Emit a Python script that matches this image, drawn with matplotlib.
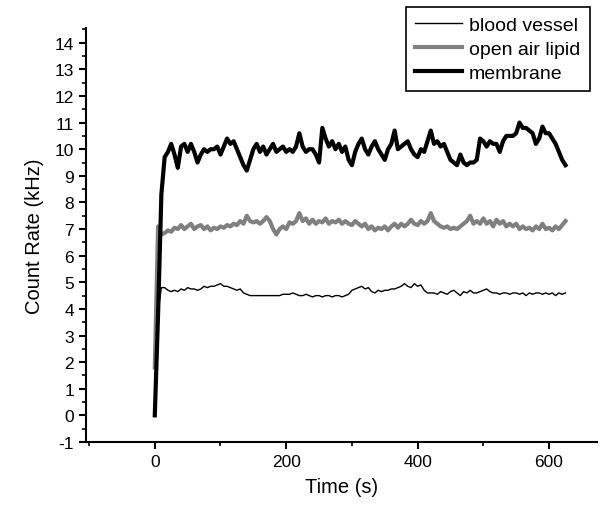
import numpy as np
import matplotlib
matplotlib.use("Agg")
import matplotlib.pyplot as plt
from matplotlib.ticker import MultipleLocator

plt.rcParams['font.family'] = ['Liberation Sans', 'DejaVu Sans']
plt.rcParams['axes.unicode_minus'] = False

# sampling every 5 s, from 0 s
t_step = 5

blood_vessel = [3.7, 3.9, 4.8, 4.8, 4.7, 4.65, 4.7, 4.65, 4.75, 4.7,
                4.8, 4.75, 4.75, 4.7, 4.75, 4.85, 4.8, 4.85, 4.85, 4.9,
                4.95, 4.85, 4.85, 4.8, 4.75, 4.7, 4.75, 4.6, 4.55, 4.5,
                4.5, 4.5, 4.5, 4.5, 4.5, 4.5, 4.5, 4.5, 4.5, 4.55,
                4.55, 4.55, 4.6, 4.55, 4.5, 4.5, 4.55, 4.5, 4.45, 4.5,
                4.5, 4.45, 4.5, 4.5, 4.45, 4.5, 4.5, 4.45, 4.5, 4.55,
                4.7, 4.75, 4.8, 4.85, 4.75, 4.8, 4.65, 4.6, 4.7, 4.65,
                4.7, 4.7, 4.75, 4.75, 4.8, 4.85, 4.95, 4.85, 4.8, 4.95,
                4.85, 4.9, 4.7, 4.6, 4.6, 4.6, 4.55, 4.65, 4.6, 4.55,
                4.65, 4.7, 4.6, 4.5, 4.65, 4.6, 4.7, 4.6, 4.6, 4.65,
                4.7, 4.75, 4.65, 4.6, 4.6, 4.55, 4.6, 4.6, 4.55, 4.6,
                4.6, 4.55, 4.6, 4.5, 4.6, 4.55, 4.6, 4.6, 4.55, 4.6,
                4.55, 4.6, 4.5, 4.6, 4.55, 4.6]

open_air_lipid = [1.8, 7.1, 6.8, 6.85, 6.95, 6.9, 7.05, 7.0, 7.15, 7.0,
                  7.1, 7.2, 7.0, 7.1, 7.15, 7.0, 7.1, 6.95, 7.05, 7.0,
                  7.1, 7.05, 7.15, 7.1, 7.2, 7.15, 7.3, 7.2, 7.5, 7.3,
                  7.25, 7.3, 7.2, 7.3, 7.45, 7.3, 7.0, 6.8, 7.0, 7.1,
                  7.0, 7.25, 7.2, 7.3, 7.6, 7.3, 7.4, 7.2, 7.35, 7.2,
                  7.3, 7.25, 7.4, 7.2, 7.3, 7.25, 7.35, 7.2, 7.3, 7.2,
                  7.15, 7.3, 7.2, 7.1, 7.2, 7.0, 7.1, 6.95, 7.05, 7.0,
                  7.1, 6.95, 7.1, 7.2, 7.05, 7.2, 7.1, 7.2, 7.35, 7.2,
                  7.15, 7.3, 7.2, 7.3, 7.6, 7.3, 7.2, 7.1, 7.05, 7.1,
                  7.0, 7.05, 7.0, 7.1, 7.2, 7.3, 7.5, 7.2, 7.3, 7.2,
                  7.4, 7.2, 7.3, 7.1, 7.35, 7.2, 7.3, 7.1, 7.2, 7.1,
                  7.2, 7.0, 7.1, 7.0, 7.05, 6.95, 7.1, 7.0, 7.2, 7.0,
                  7.05, 6.95, 7.1, 7.0, 7.15, 7.3]

membrane = [0.0, 3.8, 8.3, 9.7, 9.9, 10.2, 9.8, 9.3, 10.1, 10.2,
            9.9, 10.2, 9.9, 9.5, 9.8, 10.0, 9.9, 10.0, 10.0, 10.1,
            9.8, 10.1, 10.4, 10.2, 10.3, 10.0, 9.7, 9.4, 9.2, 9.6,
            10.0, 10.2, 9.9, 10.1, 9.8, 10.0, 10.2, 9.9, 10.0, 10.1,
            9.9, 10.0, 9.9, 10.1, 10.6, 10.1, 9.9, 10.0, 10.0, 9.8,
            9.5, 10.8, 10.4, 10.1, 10.3, 10.0, 10.2, 9.9, 10.1, 9.6,
            9.4, 9.9, 10.2, 10.4, 10.0, 9.8, 10.1, 10.3, 10.0, 9.8,
            9.6, 10.0, 10.2, 10.7, 10.0, 10.1, 10.2, 10.3, 10.0, 9.8,
            9.7, 10.0, 9.9, 10.3, 10.7, 10.2, 10.3, 10.1, 10.2, 9.9,
            9.6, 9.5, 9.4, 9.8, 9.5, 9.4, 9.5, 9.5, 9.6, 10.4,
            10.3, 10.1, 10.3, 10.2, 10.2, 9.9, 10.3, 10.5, 10.5, 10.5,
            10.6, 11.0, 10.8, 10.8, 10.7, 10.6, 10.2, 10.4, 10.85, 10.6,
            10.6, 10.4, 10.2, 9.9, 9.6, 9.4]

series_names = ['blood vessel', 'open air lipid', 'membrane']

time = np.arange(len(membrane)) * t_step

fig = plt.figure(figsize=(6, 5.06), dpi=100)
ax = fig.add_axes([0.143, 0.1245, 0.852, 0.818])

ax.plot(time, blood_vessel, color='black', lw=1.0, label=series_names[0])
ax.plot(time, open_air_lipid, color='#808080', lw=3.0, label=series_names[1])
ax.plot(time, membrane, color='black', lw=3.0, label=series_names[2])

ax.set_xlim(-105, 673)
ax.set_ylim(-1, 14.55)

ax.xaxis.set_major_locator(MultipleLocator(200))
ax.xaxis.set_minor_locator(MultipleLocator(100))
ax.yaxis.set_major_locator(MultipleLocator(1))
ax.yaxis.set_minor_locator(MultipleLocator(0.5))

for s in ['top', 'right']:
    ax.spines[s].set_visible(False)
for s in ['left', 'bottom']:
    ax.spines[s].set_linewidth(1.5)

ax.tick_params(which='major', direction='out', length=5, width=1.5, labelsize=12.5)
ax.tick_params(which='minor', direction='out', length=3, width=1.2)

ax.set_xlabel('Time (s)', fontsize=14.5, labelpad=6)
ax.set_ylabel('Count Rate (kHz)', fontsize=14.5, labelpad=8)

leg = ax.legend(loc='upper right', bbox_to_anchor=(0.983, 0.985),
                bbox_transform=fig.transFigure, fontsize=14,
                fancybox=False, edgecolor='black', framealpha=1,
                handlelength=2.4, handletextpad=0.35, borderpad=0.5,
                labelspacing=0.32, borderaxespad=0)
leg.get_frame().set_linewidth(1.2)

fig.savefig('out.png', dpi=100)
